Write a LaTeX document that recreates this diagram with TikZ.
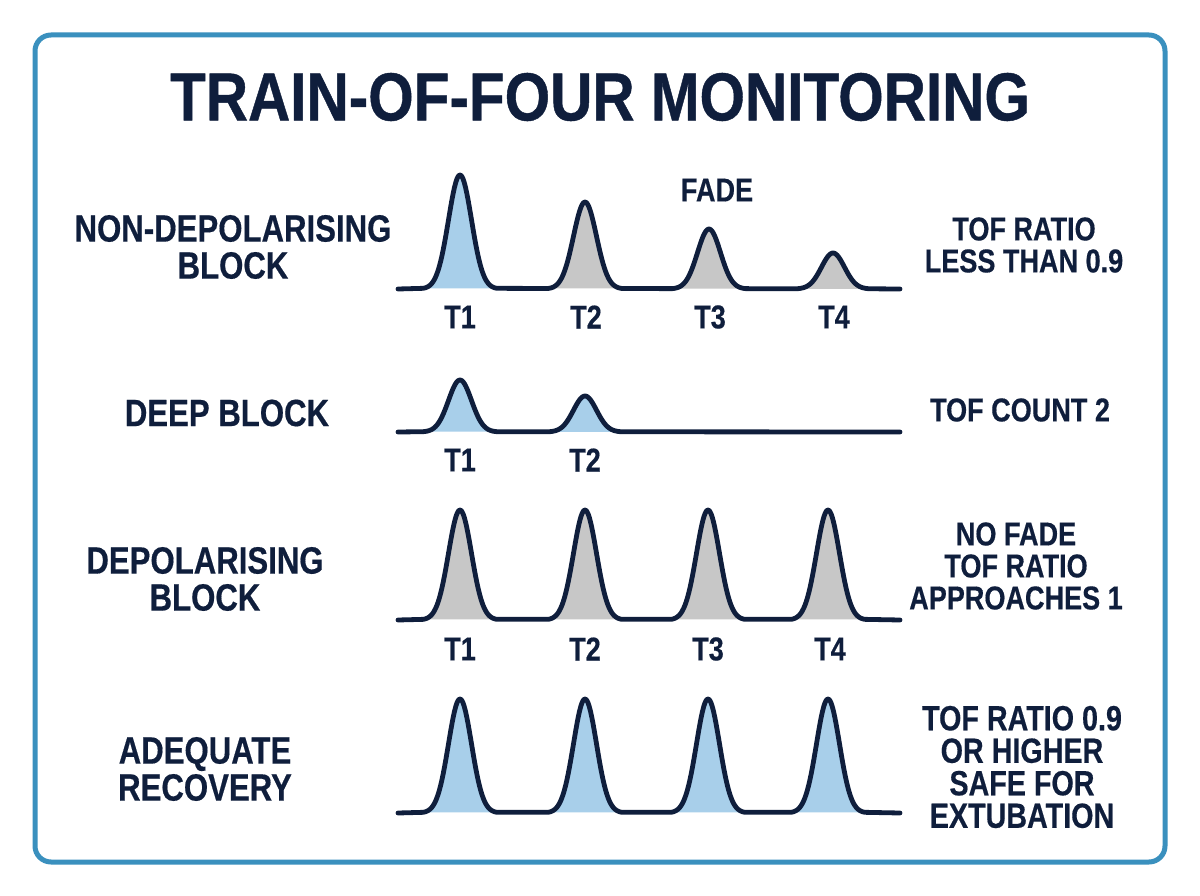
\documentclass[tikz,border=0pt]{standalone}
\usepackage{fontspec}
\setmainfont{Liberation Sans}[FakeStretch=0.82,FakeBold=0.4]
\newfontfamily\titlefont{Liberation Sans}[FakeStretch=0.86,FakeBold=0.6]
\definecolor{navy}{HTML}{0F1E3C}
\definecolor{frame}{HTML}{3A90BE}
\definecolor{bluefill}{HTML}{A8CFEA}
\definecolor{grayfill}{HTML}{C7C7C7}
\newcommand\pkfill[4]{\fill[#4] plot[domain=-3.2:3.2,samples=60,variable=\t] ({#1+11.5*\t},{#2-#3*exp(-(\t*\t)/2)}) -- cycle;}
\newcommand\pkline[3]{-- plot[domain=-3.2:3.2,samples=60,variable=\t] ({#1+11.5*\t},{#2-#3*exp(-(\t*\t)/2)})}
\begin{document}
\begin{tikzpicture}[x=1pt,y=-1pt,
  curve/.style={navy,line width=4.8pt,line join=round,line cap=round},
  title/.style={text=navy,font=\titlefont\fontsize{68}{70}\selectfont\bfseries},
  lbl/.style={text=navy,font=\fontsize{38}{37}\selectfont\bfseries,align=center},
  rlbl/.style={text=navy,font=\fontsize{33}{32}\selectfont\bfseries,align=center},
  tlbl/.style={text=navy,font=\fontsize{33}{31}\selectfont\bfseries}]
\useasboundingbox (0,0) rectangle (1200,896);
\fill[white] (0,0) rectangle (1200,896);
\draw[frame,line width=5pt,rounded corners=16pt] (35,35) rectangle (1165,862);
\node[title] (title) at (600,97) {TRAIN-OF-FOUR MONITORING};
% Row 1
\pkfill{460}{289}{114}{bluefill}
\pkfill{585}{289}{87}{grayfill}
\pkfill{709}{289}{60}{grayfill}
\pkfill{833}{289}{36}{grayfill}
\draw[curve] (398,289) \pkline{460}{289}{114} \pkline{585}{289}{87} \pkline{709}{289}{60} \pkline{833}{289}{36} -- (900,289);
\node[tlbl] (r1t1) at (460,317) {T1};
\node[tlbl] (r1t2) at (586,317) {T2};
\node[tlbl] (r1t3) at (710,317) {T3};
\node[tlbl] (r1t4) at (834,317) {T4};
\node[rlbl] (fade) at (717,190) {FADE};
\node[lbl] (l1) at (233,247) {NON-DEPOLARISING\\BLOCK};
\node[rlbl] (r1) at (1024,245) {TOF RATIO\\LESS THAN 0.9};
% Row 2
\pkfill{460}{432}{52}{bluefill}
\pkfill{585}{432}{36}{bluefill}
\draw[curve] (398,432) \pkline{460}{432}{52} \pkline{585}{432}{36} -- (900,432);
\node[tlbl] (r2t1) at (460,460) {T1};
\node[tlbl] (r2t2) at (585,460) {T2};
\node[lbl] (l2) at (227,413) {DEEP BLOCK};
\node[rlbl] (r2) at (1020,410) {TOF COUNT 2};
% Row 3
\pkfill{460}{620}{110}{grayfill}
\pkfill{585}{620}{110}{grayfill}
\pkfill{708}{620}{110}{grayfill}
\pkfill{828}{620}{110}{grayfill}
\draw[curve] (398,620) \pkline{460}{620}{110} \pkline{585}{620}{110} \pkline{708}{620}{110} \pkline{828}{620}{110} -- (900,620);
\node[tlbl] (r3t1) at (460,649) {T1};
\node[tlbl] (r3t2) at (585,649) {T2};
\node[tlbl] (r3t3) at (708,649) {T3};
\node[tlbl] (r3t4) at (830,649) {T4};
\node[lbl] (l3) at (205,579) {DEPOLARISING\\BLOCK};
\node[rlbl] (r3) at (1016,566) {NO FADE\\TOF RATIO\\APPROACHES 1};
% Row 4
\pkfill{460}{813}{114}{bluefill}
\pkfill{585}{813}{114}{bluefill}
\pkfill{708}{813}{114}{bluefill}
\pkfill{828}{813}{114}{bluefill}
\draw[curve] (398,813) \pkline{460}{813}{114} \pkline{585}{813}{114} \pkline{708}{813}{114} \pkline{828}{813}{114} -- (900,813);
\node[lbl] (l4) at (205,769) {ADEQUATE\\RECOVERY};
\node[rlbl,font=\fontsize{35}{32.5}\selectfont\bfseries] (r4) at (1022,767) {TOF RATIO 0.9\\OR HIGHER\\SAFE FOR\\EXTUBATION};
\end{tikzpicture}
\end{document}
